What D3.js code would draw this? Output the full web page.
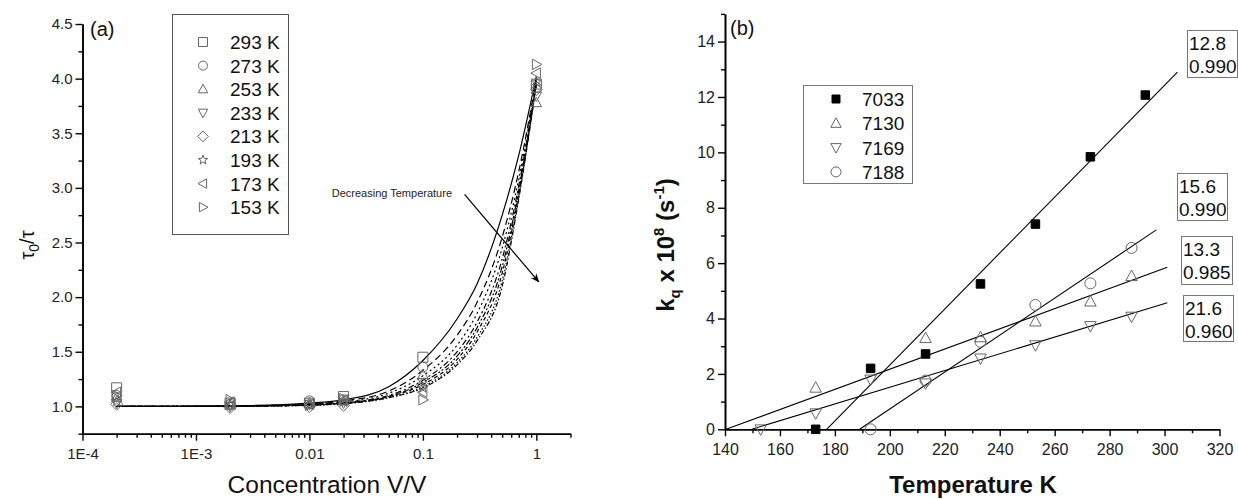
<!DOCTYPE html>
<html>
<head>
<meta charset="utf-8">
<script src="https://cdn.jsdelivr.net/npm/d3@7"></script>
<style>
  body { margin: 0; background: #fff; }
  svg { font-family: "Liberation Sans", Arial, sans-serif; }
</style>
</head>
<body>
<svg id="graph" width="1238" height="499"></svg>
<script>
// ---- Panel (a): tau0/tau vs concentration ----
var temps = ["293 K", "273 K", "253 K", "233 K", "213 K", "193 K", "173 K", "153 K"];
var symbolsA = ["square", "circle", "triUp", "triDown", "diamond", "star", "triLeft", "triRight"];
var dashes = ["", "7,4", "2,3", "6,3,2,3", "6,2,2,2,2,2", "4,3", "1.5,2", "5,2,1.5,2"];
var conc = [2e-4, 2e-3, 0.01, 0.02, 0.1, 1];
var ratio = [
  [1.17, 1.03, 1.03, 1.09, 1.45, 3.95],
  [1.10, 1.02, 1.05, 1.06, 1.36, 3.92],
  [1.08, 1.01, 1.03, 1.05, 1.29, 3.78],
  [1.03, 1.00, 1.02, 1.03, 1.22, 3.84],
  [1.02, 0.99, 1.00, 1.01, 1.20, 3.90],
  [1.05, 1.02, 1.01, 1.04, 1.17, 3.97],
  [1.13, 1.04, 1.02, 1.06, 1.13, 4.05],
  [1.10, 1.06, 1.01, 1.07, 1.06, 4.13]
];
// fitted curves
var fitConc = [2e-4, 2e-3, 0.01, 0.02, 0.05, 0.1, 0.2, 0.3, 0.5, 0.7, 1];
var fitA = [
  [1.00, 1.005, 1.03, 1.06, 1.18, 1.42, 1.80, 2.12, 2.75, 3.30, 4.02],
  [1.00, 1.004, 1.02, 1.05, 1.14, 1.33, 1.65, 1.95, 2.55, 3.15, 4.00],
  [1.00, 1.003, 1.02, 1.04, 1.12, 1.28, 1.56, 1.85, 2.45, 3.08, 3.98],
  [1.00, 1.002, 1.015, 1.035, 1.10, 1.24, 1.50, 1.77, 2.35, 3.02, 3.97],
  [1.00, 1.002, 1.013, 1.03, 1.09, 1.22, 1.46, 1.72, 2.28, 2.98, 3.96],
  [1.00, 1.001, 1.012, 1.03, 1.09, 1.20, 1.43, 1.68, 2.22, 2.95, 3.96],
  [1.00, 1.001, 1.01, 1.025, 1.08, 1.18, 1.40, 1.63, 2.15, 2.92, 3.95],
  [1.00, 1.001, 1.01, 1.025, 1.08, 1.17, 1.38, 1.60, 2.10, 2.90, 3.95]
];
var majorA = [1e-4, 1e-3, 0.01, 0.1, 1];
var majorLabelsA = ["1E-4", "1E-3", "0.01", "0.1", "1"];
var yTicksA = [1.0, 1.5, 2.0, 2.5, 3.0, 3.5, 4.0, 4.5];
var arrowA = [[0.233, 2.94], [1.05, 2.14]];

// ---- Panel (b): kq vs temperature ----
var seriesB = ["7033", "7130", "7169", "7188"];
var symbolsB = ["squareFilled", "triUp", "triDown", "circle"];
var tempB = [
  [173, 193, 213, 233, 253, 273, 293],
  [173, 213, 233, 253, 273, 288],
  [153, 173, 193, 213, 233, 253, 273, 288],
  [193, 213, 233, 253, 273, 288]
];
var kqB = [
  [0.0, 2.2, 2.72, 5.25, 7.41, 9.84, 12.07],
  [1.5, 3.29, 3.32, 3.89, 4.61, 5.53],
  [0.0, 0.58, 1.8, 1.66, 2.56, 3.04, 3.73, 4.07],
  [0.0, 1.76, 3.16, 4.49, 5.27, 6.55]
];
var fitB = [
  [[177, 0], [304.7, 12.9]],
  [[140.4, 0], [301, 5.85]],
  [[149.7, 0], [301, 4.57]],
  [[189, 0], [297, 7.2]]
];
var fitLabels = [["12.8", "0.990"], ["15.6", "0.990"], ["13.3", "0.985"], ["21.6", "0.960"]];

var svg = d3.select("#graph");

// symbol path helper
function symPath(kind, s) {
  var h = s / 2;
  switch (kind) {
    case "square": case "squareFilled":
      return "M" + (-h) + "," + (-h) + "h" + s + "v" + s + "h" + (-s) + "Z";
    case "circle":
      return d3.symbol(d3.symbolCircle, Math.PI * h * h)();
    case "triUp":
      return "M0," + (-h * 1.1) + "L" + (h * 1.05) + "," + (h * 0.8) + "L" + (-h * 1.05) + "," + (h * 0.8) + "Z";
    case "triDown":
      return "M0," + (h * 1.1) + "L" + (h * 1.05) + "," + (-h * 0.8) + "L" + (-h * 1.05) + "," + (-h * 0.8) + "Z";
    case "triLeft":
      return "M" + (-h * 1.1) + ",0L" + (h * 0.8) + "," + (-h * 1.05) + "L" + (h * 0.8) + "," + (h * 1.05) + "Z";
    case "triRight":
      return "M" + (h * 1.1) + ",0L" + (-h * 0.8) + "," + (-h * 1.05) + "L" + (-h * 0.8) + "," + (h * 1.05) + "Z";
    case "diamond":
      return "M0," + (-h * 1.2) + "L" + (h * 1.2) + ",0L0," + (h * 1.2) + "L" + (-h * 1.2) + ",0Z";
    case "star":
      var pts = [];
      for (var k = 0; k < 10; k++) {
        var r = k % 2 ? h * 0.45 : h * 1.1, a = -Math.PI / 2 + k * Math.PI / 5;
        pts.push([r * Math.cos(a), r * Math.sin(a)]);
      }
      return "M" + pts.join("L") + "Z";
  }
}

function drawSym(g, kind, x, y, s) {
  g.append("path")
    .attr("d", symPath(kind, s))
    .attr("transform", "translate(" + x + "," + y + ")")
    .attr("fill", kind == "squareFilled" ? "#000" : "none")
    .attr("stroke", kind == "squareFilled" ? "#000" : "#666")
    .attr("stroke-width", 1);
}

// draw an axis in its own group; minor ticks go to a separate group
function addAxis(axis, transform, fontSize) {
  var g = svg.append("g").attr("transform", transform).call(axis);
  g.select(".domain").attr("stroke", "#000").attr("stroke-width", 1.6);
  g.selectAll(".tick line").attr("stroke", "#000").attr("stroke-width", 1.4);
  g.selectAll(".tick text").attr("fill", "#222")
    .style("font-size", fontSize + "px")
    .style("font-family", "Liberation Sans, Arial, sans-serif");
  return g;
}

// ================= Panel (a) =================
var xA = d3.scaleLog().domain([1e-4, 2]).range([82.5, 570.5]);
var yA = d3.scaleLinear().domain([0.75, 4.5]).range([433.7, 24]);

var minorA = [];
[1e-4, 1e-3, 0.01, 0.1, 1].forEach(function(d) {
  for (var m = 2; m <= 9; m++) if (d * m <= 2) minorA.push(d * m);
});

var trXA = "translate(0," + yA(0.75) + ")";
addAxis(d3.axisBottom(xA).tickValues(minorA).tickSize(4).tickSizeOuter(0).tickFormat(""), trXA, 15);
var gxA = addAxis(d3.axisBottom(xA).tickValues(majorA).tickSize(7).tickSizeOuter(0)
  .tickFormat(function(d, i) { return majorLabelsA[i]; }), trXA, 15);
gxA.selectAll(".tick text").attr("dy", "1.0em");

var minorYA = [0.75, 1.25, 1.75, 2.25, 2.75, 3.25, 3.75, 4.25];
var trYA = "translate(" + xA(1e-4) + ",0)";
addAxis(d3.axisLeft(yA).tickValues(minorYA).tickSize(4).tickSizeOuter(0).tickFormat(""), trYA, 15);
addAxis(d3.axisLeft(yA).tickValues(yTicksA).tickSize(7).tickSizeOuter(0).tickFormat(d3.format(".1f")), trYA, 15);

// fitted curves
var lineA = d3.line()
  .x(function(d) { return xA(d[0]); })
  .y(function(d) { return yA(d[1]); })
  .curve(d3.curveMonotoneX);
fitA.forEach(function(vals, i) {
  var pts = fitConc.map(function(c, j) { return [c, vals[j]]; });
  svg.append("path").datum(pts)
    .attr("fill", "none")
    .attr("stroke", "#000")
    .attr("stroke-width", 1.2)
    .attr("stroke-dasharray", dashes[i])
    .attr("d", lineA);
});

// data points
var gPtsA = svg.append("g");
ratio.forEach(function(vals, i) {
  vals.forEach(function(v, j) {
    drawSym(gPtsA, symbolsA[i], xA(conc[j]), yA(v), 10);
  });
});

// legend (a)
svg.append("rect").attr("x", 172.5).attr("y", 14.5).attr("width", 116).attr("height", 220)
  .attr("fill", "none").attr("stroke", "#555").attr("stroke-width", 1);
temps.forEach(function(t, i) {
  var ly = 42 + i * 23.6;
  drawSym(svg, symbolsA[i], 203, ly, 9);
  svg.append("text").attr("x", 230).attr("y", ly + 7)
    .attr("font-size", 19).attr("fill", "#111").text(t);
});

svg.append("text").attr("x", 90).attr("y", 36).attr("font-size", 20).attr("fill", "#111").text("(a)");

// annotation arrow
svg.append("defs").append("marker")
  .attr("id", "arrow").attr("viewBox", "0 0 10 10").attr("refX", 9).attr("refY", 5)
  .attr("markerWidth", 9).attr("markerHeight", 9).attr("orient", "auto-start-reverse")
  .attr("markerUnits", "userSpaceOnUse")
  .append("path").attr("d", "M0,1L10,5L0,9L3,5Z").attr("fill", "#000");
svg.append("line")
  .attr("x1", xA(arrowA[0][0])).attr("y1", yA(arrowA[0][1]))
  .attr("x2", xA(arrowA[1][0])).attr("y2", yA(arrowA[1][1]))
  .attr("stroke", "#000").attr("stroke-width", 1.2).attr("marker-end", "url(#arrow)");
svg.append("text").attr("x", 452).attr("y", 197).attr("text-anchor", "end")
  .attr("font-size", 11).attr("fill", "#222").text("Decreasing Temperature");

// axis titles (a)
svg.append("text").attr("x", 327).attr("y", 493).attr("text-anchor", "middle")
  .attr("font-size", 24.5).attr("fill", "#111").text("Concentration V/V");
var tyA = svg.append("text").attr("transform", "translate(34,245) rotate(-90)")
  .attr("text-anchor", "middle").attr("font-size", 20).attr("fill", "#111");
tyA.append("tspan").text("τ");
tyA.append("tspan").attr("font-size", 14).attr("dy", 5).text("0");
tyA.append("tspan").attr("dy", -5).text("/τ");

// ================= Panel (b) =================
var xB = d3.scaleLinear().domain([140, 320]).range([725, 1219.5]);
var yB = d3.scaleLinear().domain([0, 15]).range([429.3, 13.9]);

var trXB = "translate(0," + yB(0) + ")";
addAxis(d3.axisBottom(xB).tickValues(d3.range(150, 320, 20)).tickSize(4).tickSizeOuter(0).tickFormat(""), trXB, 16);
var gxB = addAxis(d3.axisBottom(xB).tickValues(d3.range(140, 321, 20)).tickSize(7).tickSizeOuter(0).tickFormat(d3.format("d")), trXB, 16);
gxB.selectAll(".tick text").attr("dy", "1.0em");

var trYB = "translate(" + xB(140) + ",0)";
addAxis(d3.axisLeft(yB).tickValues(d3.range(1, 16, 2)).tickSize(4).tickSizeOuter(0).tickFormat(""), trYB, 16);
addAxis(d3.axisLeft(yB).tickValues(d3.range(0, 15, 2)).tickSize(7).tickSizeOuter(0).tickFormat(d3.format("d")), trYB, 16);

// fit lines
fitB.forEach(function(seg) {
  svg.append("line")
    .attr("x1", xB(seg[0][0])).attr("y1", yB(seg[0][1]))
    .attr("x2", xB(seg[1][0])).attr("y2", yB(seg[1][1]))
    .attr("stroke", "#000").attr("stroke-width", 1.1);
});

// points
var gPtsB = svg.append("g");
kqB.forEach(function(vals, i) {
  vals.forEach(function(v, j) {
    drawSym(gPtsB, symbolsB[i], xB(tempB[i][j]), yB(v), symbolsB[i] == "squareFilled" ? 8.5 : 11);
  });
});

// fit label boxes
var boxPos = [[1187, 30, 50, 47], [1177, 173, 50, 47], [1181, 236, 51, 48], [1183, 295, 50, 46]];
fitLabels.forEach(function(lab, i) {
  var b = boxPos[i];
  svg.append("rect").attr("x", b[0] + 0.5).attr("y", b[1] + 0.5).attr("width", b[2]).attr("height", b[3])
    .attr("fill", "#fff").attr("stroke", "#777").attr("stroke-width", 1);
  svg.append("text").attr("x", b[0] + 2).attr("y", b[1] + 20).attr("font-size", 19).attr("fill", "#111").text(lab[0]);
  svg.append("text").attr("x", b[0] + 2).attr("y", b[1] + 43).attr("font-size", 19).attr("fill", "#111").text(lab[1]);
});

// legend (b)
svg.append("rect").attr("x", 803.5).attr("y", 85.5).attr("width", 109).attr("height", 98)
  .attr("fill", "#fff").attr("stroke", "#777").attr("stroke-width", 1);
seriesB.forEach(function(s, i) {
  var ly = 99 + i * 24.3;
  drawSym(svg, symbolsB[i], 836, ly, symbolsB[i] == "squareFilled" ? 8 : 10);
  svg.append("text").attr("x", 862).attr("y", ly + 7).attr("font-size", 19).attr("fill", "#111").text(s);
});

svg.append("text").attr("x", 730).attr("y", 35).attr("font-size", 20).attr("fill", "#111").text("(b)");

// axis titles (b)
svg.append("text").attr("x", 973).attr("y", 493).attr("text-anchor", "middle")
  .attr("font-size", 24).attr("font-weight", "bold").attr("fill", "#111").text("Temperature K");
var tyB = svg.append("text").attr("transform", "translate(674,245) rotate(-90)")
  .attr("text-anchor", "middle").attr("font-size", 24).attr("font-weight", "bold").attr("fill", "#111");
tyB.append("tspan").text("k");
tyB.append("tspan").attr("font-size", 15).attr("dy", 6).text("q");
tyB.append("tspan").attr("dy", -6).text(" x  10");
tyB.append("tspan").attr("font-size", 15).attr("dy", -10).text("8");
tyB.append("tspan").attr("dy", 10).text("  (s");
tyB.append("tspan").attr("font-size", 15).attr("dy", -10).text("-1");
tyB.append("tspan").attr("dy", 10).text(")");
</script>
</body>
</html>
